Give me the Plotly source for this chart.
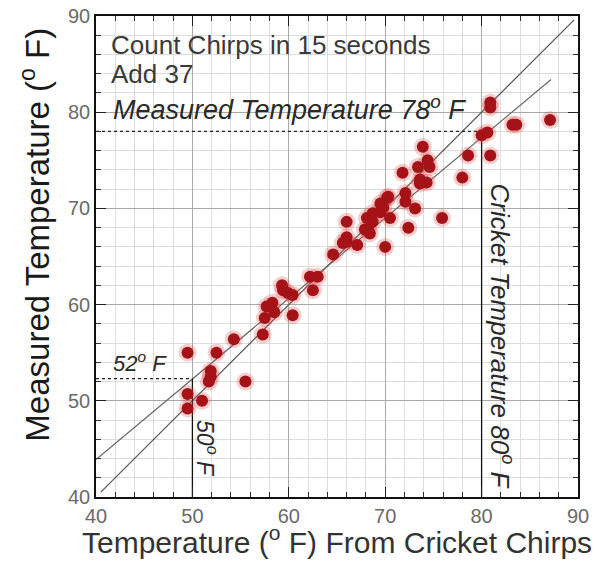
import plotly.graph_objects as go

# Data: (temperature from chirps, measured temperature)
chirp_temp = [49.5, 52.5, 51.9, 51.9, 51.7, 49.5, 51.0, 49.5, 55.5, 54.3,
              57.3, 57.5, 57.7, 58.3, 58.5, 59.3, 59.4, 59.9, 60.4, 60.4,
              62.2, 63.0, 62.5, 64.6, 65.6, 66.0, 66.0, 66.0, 67.1, 68.1,
              68.2, 68.7, 69.5, 70.2, 69.8, 70.0, 70.5, 68.4, 67.9, 72.4,
              72.1, 72.1, 73.1, 73.6, 74.3, 75.9, 73.9, 74.4, 74.6, 73.4,
              73.6, 71.8, 70.3, 69.5, 68.7, 78.6, 78.0, 80.9, 80.0, 80.6,
              80.9, 80.9, 83.2, 83.6, 87.1]
measured_temp = [55.0, 55.0, 53.1, 52.5, 52.0, 50.7, 50.0, 49.2, 52.0, 56.4,
                 56.9, 58.6, 59.8, 60.2, 59.2, 62.0, 61.5, 61.2, 61.0, 58.9,
                 62.9, 62.9, 61.5, 65.2, 66.4, 67.0, 68.6, 66.5, 66.2, 69.0,
                 67.8, 68.6, 69.6, 71.1, 70.1, 66.0, 69.0, 67.4, 67.8, 68.0,
                 71.6, 70.7, 70.0, 72.6, 72.7, 69.0, 76.4, 75.0, 74.3, 74.3,
                 73.0, 73.7, 71.2, 70.5, 69.5, 75.5, 73.2, 75.5, 77.6, 77.9,
                 80.5, 81.0, 78.7, 78.7, 79.2]

# Reference lines
identity_x = [40.5, 89.6]
identity_y = [40.5, 89.6]
fit_x = [40.0, 87.2]
fit_y = [43.9, 83.4]

axis_ticks = [40, 50, 60, 70, 80, 90]

fig = go.Figure()

fig.add_trace(go.Scatter(x=identity_x, y=identity_y, mode="lines",
                         line=dict(color="#555555", width=1.2), hoverinfo="skip"))
fig.add_trace(go.Scatter(x=fit_x, y=fit_y, mode="lines",
                         line=dict(color="#666666", width=1.2), hoverinfo="skip"))

fig.add_trace(go.Scatter(x=[40, 80], y=[78, 78], mode="lines",
                         line=dict(color="#222222", width=1.3, dash="dot"), hoverinfo="skip"))
fig.add_trace(go.Scatter(x=[80, 80], y=[40, 78], mode="lines",
                         line=dict(color="#111111", width=1.3), hoverinfo="skip"))
fig.add_trace(go.Scatter(x=[40, 50], y=[52.3, 52.3], mode="lines",
                         line=dict(color="#222222", width=1.3, dash="dot"), hoverinfo="skip"))
fig.add_trace(go.Scatter(x=[50, 50], y=[40, 52.3], mode="lines",
                         line=dict(color="#111111", width=1.3), hoverinfo="skip"))

fig.add_trace(go.Scatter(x=chirp_temp, y=measured_temp, mode="markers",
                         marker=dict(size=18, color="rgba(225,80,80,0.28)", line=dict(width=0)),
                         hoverinfo="skip"))
fig.add_trace(go.Scatter(x=chirp_temp, y=measured_temp, mode="markers",
                         marker=dict(size=12, color="#a51217", line=dict(width=0))))

FAM = "Liberation Sans, Arial"
txt_font = dict(family=FAM, size=26, color="#3a3a3a")
ital = dict(family=FAM, size=27, color="#2a2a2a", style="italic")

annotations = [
    dict(x=41.3, y=87.0, text="Count Chirps in 15 seconds", xanchor="left", yanchor="middle", font=txt_font),
    dict(x=41.3, y=84.0, text="Add 37", xanchor="left", yanchor="middle", font=txt_font),
    dict(x=41.6, y=80.4, text="Measured Temperature 78<sup>o</sup> F", xanchor="left", yanchor="middle", font=ital),
    dict(x=41.6, y=54.0, text="52<sup>o</sup> F", xanchor="left", yanchor="middle",
         font=dict(family=FAM, size=22, color="#2a2a2a", style="italic")),
    dict(x=51.5, y=45.0, text="50<sup>o</sup> F", textangle=90, xanchor="center", yanchor="middle",
         font=dict(family=FAM, size=23, color="#2a2a2a", style="italic")),
    dict(x=82.1, y=56.7, text="Cricket Temperature 80<sup>o</sup> F", textangle=90, xanchor="center", yanchor="middle",
         font=dict(family=FAM, size=26, color="#2a2a2a", style="italic")),
]
for a in annotations:
    a.update(xref="x", yref="y", showarrow=False)

# axis titles placed in paper coordinates
annotations += [
    dict(x=0.5, y=-0.09, xref="paper", yref="paper", showarrow=False,
         xanchor="center", yanchor="middle",
         text="Temperature (<sup>o</sup> F) From Cricket Chirps",
         font=dict(family=FAM, size=30, color="#333333")),
    dict(x=-0.127, y=0.545, xref="paper", yref="paper", showarrow=False,
         xanchor="center", yanchor="middle", textangle=-90,
         text="Measured Temperature (<sup>o</sup> F)",
         font=dict(family=FAM, size=33, color="#1a1a1a")),
]
fig.update_layout(annotations=annotations)

axis_common = dict(
    range=[40, 90], tickvals=axis_ticks, showgrid=True, gridcolor="#a8a8a8", gridwidth=1,
    ticks="inside", ticklen=10, tickwidth=1, tickcolor="#222222",
    showline=True, linecolor="#111111", linewidth=1.5, mirror="allticks",
    zeroline=False, automargin=False,
    tickfont=dict(family=FAM, size=20, color="#6a6a6a"),
    minor=dict(dtick=2, showgrid=True, gridcolor="#dcdcdc", gridwidth=1,
               ticks="inside", ticklen=5, tickcolor="#333333"),
)

fig.update_xaxes(**axis_common)
fig.update_yaxes(**axis_common)

fig.update_layout(
    width=595, height=567, showlegend=False,
    paper_bgcolor="white", plot_bgcolor="white",
    margin=dict(l=96, r=17, t=16, b=70),
)

# remove the default 8px page margin so the figure fills the 595x567 window
fig.write_html("out.html", config={"displayModeBar": False},
               post_script="document.body.style.margin='0';")
